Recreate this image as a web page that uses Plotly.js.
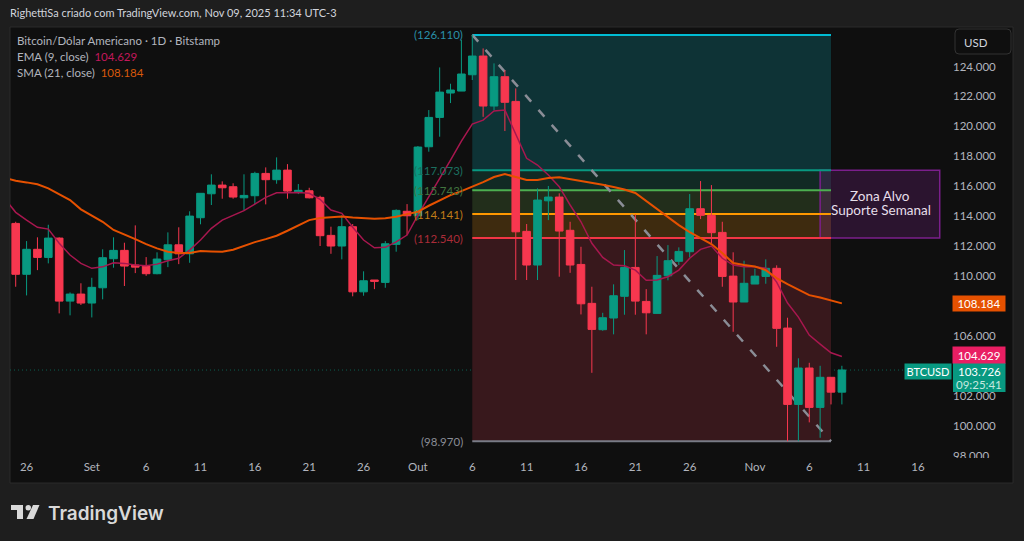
<!DOCTYPE html>
<html><head><meta charset="utf-8">
<script src="https://cdn.plot.ly/plotly-3.0.1.min.js"></script>
<style>html,body{margin:0;padding:0;background:#1e1e1e;overflow:hidden}#c{width:1024px;height:541px}</style>
</head><body><div id="c"></div>
<script>
const dates=["2025-08-24","2025-08-25","2025-08-26","2025-08-27","2025-08-28","2025-08-29","2025-08-30","2025-08-31",
"2025-09-01","2025-09-02","2025-09-03","2025-09-04","2025-09-05","2025-09-06","2025-09-07","2025-09-08","2025-09-09","2025-09-10",
"2025-09-11","2025-09-12","2025-09-13","2025-09-14","2025-09-15","2025-09-16","2025-09-17","2025-09-18","2025-09-19","2025-09-20",
"2025-09-21","2025-09-22","2025-09-23","2025-09-24","2025-09-25","2025-09-26","2025-09-27","2025-09-28","2025-09-29","2025-09-30",
"2025-10-01","2025-10-02","2025-10-03","2025-10-04","2025-10-05","2025-10-06","2025-10-07","2025-10-08","2025-10-09","2025-10-10",
"2025-10-11","2025-10-12","2025-10-13","2025-10-14","2025-10-15","2025-10-16","2025-10-17","2025-10-18","2025-10-19","2025-10-20",
"2025-10-21","2025-10-22","2025-10-23","2025-10-24","2025-10-25","2025-10-26","2025-10-27","2025-10-28","2025-10-29","2025-10-30",
"2025-10-31","2025-11-01","2025-11-02","2025-11-03","2025-11-04","2025-11-05","2025-11-06","2025-11-07","2025-11-08","2025-11-09"];
const open=[113.52,110.12,111.79,111.25,112.54,108.33,108.80,108.20,109.22,111.16,111.72,110.74,110.67,110.16,111.09,112.09,111.49,113.90,115.50,116.08,115.97,115.23,115.37,116.86,116.44,117.08,115.63,115.70,115.26,112.72,112.01,113.30,108.95,109.74,109.58,112.12,114.33,114.03,118.64,120.60,122.23,122.36,123.45,124.70,121.36,123.32,121.67,112.99,110.74,115.03,115.28,113.06,110.78,108.18,106.42,107.20,108.65,110.58,108.31,107.51,110.02,110.99,111.63,114.50,114.06,112.92,110.00,108.27,109.47,109.98,110.52,106.53,101.43,103.86,101.23,103.24,102.25];
const high=[113.63,112.34,112.59,113.43,112.59,108.91,109.52,109.89,111.79,112.59,112.23,113.39,111.27,111.59,112.92,113.26,114.33,115.53,116.80,116.33,116.20,116.80,116.97,117.26,117.93,117.48,116.15,115.90,115.37,113.30,114.06,113.48,110.32,109.74,112.34,114.46,114.81,118.69,121.09,123.94,122.85,125.77,126.11,125.21,124.21,123.76,122.54,113.48,115.86,116.02,115.53,113.63,111.96,109.29,107.55,109.45,111.74,114.12,109.13,111.34,112.07,111.92,115.48,116.35,116.08,113.63,111.59,111.03,110.49,111.12,110.72,107.22,104.51,104.21,104.01,103.24,104.01];
const low=[109.29,108.71,110.40,110.85,107.51,107.38,108.07,107.24,108.45,110.56,109.34,110.20,110.02,110.12,110.60,110.80,110.89,113.46,114.75,115.17,115.17,114.39,114.81,114.79,116.17,115.17,115.48,115.19,112.01,111.49,111.12,108.65,108.69,109.13,109.22,111.63,112.74,113.74,118.31,119.31,121.56,122.36,123.10,120.64,121.09,119.69,109.74,109.74,109.74,113.74,109.96,110.22,107.44,103.54,106.35,106.11,107.42,107.42,106.11,107.51,109.72,110.74,111.25,113.81,112.19,109.29,106.28,108.27,109.47,109.49,105.28,98.97,98.97,100.23,99.20,101.43,101.43];
const close=[110.12,111.79,111.25,112.54,108.33,108.80,108.20,109.25,111.23,111.72,110.67,110.60,110.16,111.14,112.09,111.49,114.01,115.53,116.08,115.90,115.28,115.39,116.86,116.44,117.08,115.68,115.73,115.23,112.70,112.01,113.30,108.95,109.69,109.65,112.16,114.39,114.03,118.62,120.60,122.29,122.43,123.50,124.70,121.36,123.32,121.61,112.96,110.74,115.08,115.28,113.01,110.74,108.15,106.44,107.22,108.69,110.58,108.33,107.55,110.05,111.03,111.65,114.50,114.06,112.90,109.98,108.27,109.52,110.00,110.52,106.51,101.43,103.86,101.23,103.24,102.25,103.73];
const ema9=[115.17,114.26,113.74,113.26,113.14,112.19,111.41,110.85,110.52,110.62,110.89,110.85,110.74,110.69,110.80,111.03,111.19,111.74,112.41,113.19,113.74,114.08,114.37,114.81,115.26,115.57,115.59,115.59,115.53,115.13,114.41,114.19,113.26,112.41,111.89,111.92,112.29,112.74,114.08,115.28,116.48,117.75,119.02,120.16,120.42,121.03,121.09,119.42,117.87,117.42,116.75,115.97,114.75,113.63,112.19,111.25,110.74,110.69,110.40,109.72,109.74,109.96,110.40,111.19,111.79,112.01,111.19,110.74,110.62,110.62,110.52,109.60,108.20,107.26,106.06,105.46,104.88,104.63];
const sma21=[116.55,116.37,116.26,116.13,115.86,115.46,115.08,114.46,114.03,113.63,113.08,112.79,112.47,112.14,111.85,111.63,111.54,111.54,111.67,111.65,111.63,111.76,112.03,112.27,112.47,112.70,113.03,113.41,113.74,113.88,113.94,113.99,113.92,113.86,113.83,113.86,113.96,114.14,114.30,114.70,115.08,115.41,115.68,115.97,116.28,116.62,116.82,116.62,116.42,116.42,116.55,116.60,116.48,116.37,116.24,116.10,115.95,115.78,115.55,115.01,114.48,113.94,113.41,112.94,112.54,112.14,111.54,110.87,110.74,110.64,110.40,109.87,109.47,109.10,108.73,108.57,108.37,108.18];
const xTickVals=["2025-08-26","2025-09-01","2025-09-06","2025-09-11","2025-09-16","2025-09-21","2025-09-26","2025-10-01","2025-10-06","2025-10-11","2025-10-16","2025-10-21","2025-10-26","2025-11-01","2025-11-06","2025-11-11","2025-11-16"];
const xTickText=["26","Set","6","11","16","21","26","Out","6","11","16","21","26","Nov","6","11","16"];
const yTickVals=[98,100,102,106,110,112,114,116,118,120,122,124];
const yTickText=["98.000","100.000","102.000","106.000","110.000","112.000","114.000","116.000","118.000","120.000","122.000","124.000"];
const fibLevels=[126.11,117.073,115.743,114.141,112.54,98.97];
const fibText=["(126.110)","(117.073)","(115.743)","(114.141)","(112.540)","(98.970)"];
const fibLine=["#00bcd4","#089981","#4caf50","#ff9800","#f23645","#787b86"];
const fibFill=["#0e3336","#112a24","#222e1b","#3e2b0f","#38181c"];
const fibLabel=["#2a8fa8","#1b6f60","#41743f","#c07c18","#aa2c38","#8a8d96"];
const fibStart="2025-10-06", fibEnd="2025-11-08";
const zoneStart="2025-11-07", zoneEnd="2025-11-18";
const lastPrice=103.726, emaLast=104.629, smaLast=108.184;

const W=1024,H=541,L=10,R=952,T=27,B=458;
const px=x=>(x-L)/(R-L), py=y=>(B-y)/(B-T);
const FONT='Lato, "Open Sans", sans-serif';
const shapes=[];
shapes.push({type:'rect',xref:'paper',yref:'paper',x0:px(10),x1:px(1013),y0:py(27),y1:py(483),fillcolor:'#0f0f0f',line:{color:'#2a2a2a',width:1},layer:'below'});
for(let i=0;i<fibFill.length;i++)shapes.push({type:'rect',xref:'x',yref:'y',x0:fibStart,x1:fibEnd,y0:fibLevels[i],y1:fibLevels[i+1],fillcolor:fibFill[i],line:{width:0},layer:'below'});
shapes.push({type:'rect',xref:'x',yref:'y',x0:zoneStart,x1:zoneEnd,y0:112.54,y1:117.073,fillcolor:'rgba(156,39,176,0.2)',line:{color:'#7b1f8c',width:1.5},layer:'below'});
fibLevels.forEach((v,i)=>shapes.push({type:'line',xref:'x',yref:'y',x0:fibStart,x1:fibEnd,y0:v,y1:v,line:{color:fibLine[i],width:2},layer:'below'}));
shapes.push({type:'line',xref:'x',yref:'y',x0:fibStart,x1:fibEnd,y0:126.11,y1:98.97,line:{color:'#8a8d96',width:2.5,dash:'9px,11px'},layer:'below'});
shapes.push({type:'line',xref:'paper',yref:'y',x0:0,x1:1,y0:lastPrice,y1:lastPrice,line:{color:'#0b5f52',width:1,dash:'1px,3px'},layer:'below'});
shapes.push({type:'rect',xref:'paper',yref:'paper',x0:px(953),x1:px(1012),y0:py(458),y1:py(470),fillcolor:'#0f0f0f',line:{width:0},layer:'above'});
shapes.push({type:'rect',xref:'paper',yref:'paper',x0:px(953),x1:px(1005.5),y0:py(363),y1:py(392),fillcolor:'#089981',line:{width:0},layer:'above'});
const ux0=px(955),ux1=px(1011),uy0=py(29),uy1=py(54),rx=px(959)-px(955),ry=py(29)-py(33);
shapes.push({type:'path',xref:'paper',yref:'paper',layer:'above',line:{color:'#333333',width:1},fillcolor:'#0f0f0f',
 path:`M ${ux0+rx} ${uy0} L ${ux1-rx} ${uy0} Q ${ux1} ${uy0} ${ux1} ${uy0-ry} L ${ux1} ${uy1+ry} Q ${ux1} ${uy1} ${ux1-rx} ${uy1} L ${ux0+rx} ${uy1} Q ${ux0} ${uy1} ${ux0} ${uy1+ry} L ${ux0} ${uy0-ry} Q ${ux0} ${uy0} ${ux0+rx} ${uy0} Z`});
const poly=(pts)=>'M '+pts.map(p=>px(p[0])+' '+py(p[1])).join(' L ')+' Z';
const logoC='#d9d9d9';
shapes.push({type:'path',xref:'paper',yref:'paper',fillcolor:logoC,line:{width:0},path:poly([[11,505],[23,505],[23,519],[17,519],[17,510],[11,510]])});
shapes.push({type:'path',xref:'paper',yref:'paper',fillcolor:logoC,line:{width:0},path:poly([[33,505],[39.5,505],[33.5,519],[26.5,519]])});
shapes.push({type:'circle',xref:'paper',yref:'paper',fillcolor:logoC,line:{width:0},x0:px(25.5),x1:px(31),y0:py(510.5),y1:py(505)});

const a=(text,x,y,o={})=>Object.assign({text,xref:'paper',yref:'paper',x:px(x),y:py(y),xanchor:'left',yanchor:'middle',showarrow:false,font:{family:FONT,size:11.5,color:'#b2b5be'}},o);
const anns=[
 a('RighettiSa criado com TradingView.com, Nov 09, 2025 11:34 UTC-3',8,13,{font:{family:FONT,size:11,color:'#d1d4dc'}}),
 a('Bitcoin/Dólar Americano · 1D · Bitstamp',15,40),
 a('EMA (9, close)  <span style="color:#c2185b">104.629</span>',15,56),
 a('SMA (21, close)  <span style="color:#d9590b">108.184</span>',15,72),
 a('USD',962,42,{font:{family:FONT,size:11.5,color:'#d1d4dc'}}),
 a('Zona Alvo',880,196,{xanchor:'center',font:{family:FONT,size:13.5,color:'#e6dfea'}}),
 a('Suporte Semanal',880.5,210,{xanchor:'center',font:{family:FONT,size:13.5,color:'#e6dfea'}}),
 a('TradingView',46,513,{font:{family:'Inter, sans-serif',size:19,weight:600,color:'#d9d9d9'}}),
 a('BTCUSD',928.3,371,{xanchor:'center',bgcolor:'#089981',width:46,height:15,font:{family:FONT,size:11,color:'#ffffff'},borderpad:0}),
 a('104.629',979.2,355,{xanchor:'center',bgcolor:'#e91e63',width:52,height:16,font:{family:FONT,size:11.5,color:'#ffffff'},borderpad:0}),
 a('108.184',979.2,303.5,{xanchor:'center',bgcolor:'#e65100',width:52,height:15,font:{family:FONT,size:11.5,color:'#ffffff'},borderpad:0}),
 a('103.726',979.2,371,{xanchor:'center',font:{family:FONT,size:11.5,color:'#ffffff'}}),
 a('09:25:41',979.2,384,{xanchor:'center',font:{family:FONT,size:11.5,color:'#c5e8df'}})
];
fibLevels.forEach((v,i)=>anns.push({text:fibText[i],xref:'paper',yref:'y',x:px(464.5),y:v,xanchor:'right',yanchor:'middle',showarrow:false,font:{family:FONT,size:11.5,color:fibLabel[i]}}));

const traces=[
 {type:'candlestick',x:dates.slice(1),open,high,low,close,whiskerwidth:0,hoverinfo:'skip',
  increasing:{line:{color:'#089981',width:1},fillcolor:'#089981'},
  decreasing:{line:{color:'#f7374f',width:1},fillcolor:'#f7374f'}},
 {type:'scatter',mode:'lines',x:dates,y:ema9,line:{color:'#a8174f',width:1.5},hoverinfo:'skip'},
 {type:'scatter',mode:'lines',x:dates,y:sma21,line:{color:'#e65100',width:2},hoverinfo:'skip'}
];
const layout={width:W,height:H,margin:{l:L,r:W-R,t:T,b:H-B,pad:0},paper_bgcolor:'#1e1e1e',plot_bgcolor:'rgba(0,0,0,0)',showlegend:false,boxgap:0.3,boxgroupgap:0,
 font:{family:FONT,size:12,color:'#b2b5be'},
 xaxis:{type:'date',range:['2025-08-24 11:25','2025-11-19 03:07'],rangeslider:{visible:false},showgrid:false,zeroline:false,showline:false,ticks:'',
  tickmode:'array',tickvals:xTickVals,ticktext:xTickText,tickfont:{family:FONT,size:11.5,color:'#b2b5be'}},
 yaxis:{range:[97.85,126.64],side:'right',showgrid:false,zeroline:false,showline:false,ticks:'',
  tickmode:'array',tickvals:yTickVals,ticktext:yTickText,tickfont:{family:FONT,size:11.5,color:'#b2b5be'}},
 shapes,annotations:anns};
Plotly.newPlot('c',traces,layout,{staticPlot:true,displayModeBar:false});
</script></body></html>
